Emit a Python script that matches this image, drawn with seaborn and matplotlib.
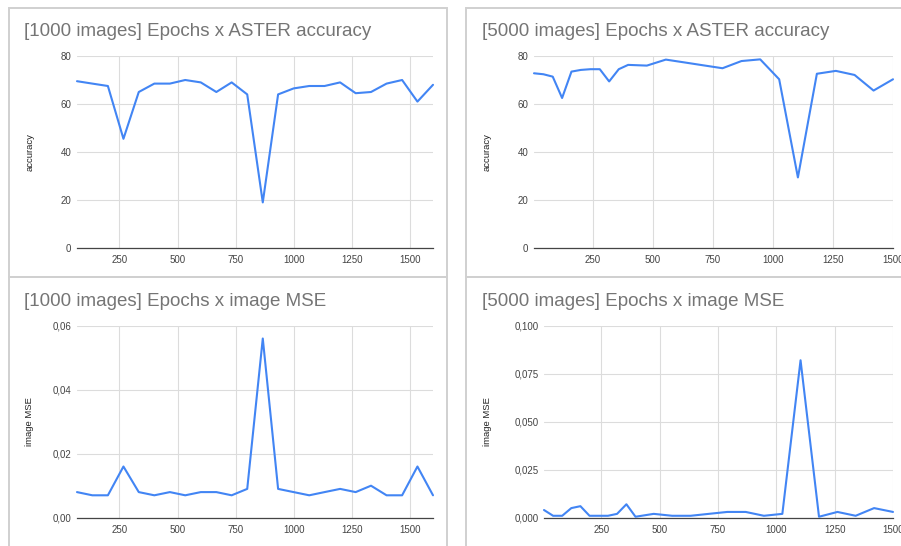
import numpy as np
import pandas as pd
import matplotlib
matplotlib.use("Agg")
import matplotlib.pyplot as plt
from matplotlib.patches import Rectangle
import seaborn as sns

# ---------------- data ----------------
epochs_1000 = [67, 133, 200, 267, 333, 400, 467, 533, 600, 667, 733, 800,
               867, 933, 1000, 1067, 1133, 1200, 1267, 1333, 1400, 1467, 1533, 1600]
acc_1000 = [69.5, 68.5, 67.5, 45.5, 65, 68.5, 68.5, 70, 69, 65, 69, 64,
            19, 64, 66.5, 67.5, 67.5, 69, 64.5, 65, 68.5, 70, 61, 68]
mse_1000 = [0.008, 0.007, 0.007, 0.016, 0.008, 0.007, 0.008, 0.007, 0.008, 0.008, 0.007, 0.009,
            0.056, 0.009, 0.008, 0.007, 0.008, 0.009, 0.008, 0.010, 0.007, 0.007, 0.016, 0.007]

epochs_5000 = [5, 44, 83, 122, 161, 200, 240, 279, 318, 358, 397, 475, 554,
               633, 711, 790, 869, 947, 1026, 1104, 1183, 1262, 1340, 1419, 1500]
acc_5000 = [72.8, 72.4, 71.4, 62.5, 73.5, 74.2, 74.5, 74.5, 69.4, 74.5, 76.3, 76.0, 78.5,
            77.3, 76.1, 74.9, 77.9, 78.6, 70.3, 29.4, 72.6, 73.8, 72.1, 65.6, 70.3]
mse_5000 = [0.004, 0.001, 0.001, 0.005, 0.006, 0.001, 0.001, 0.001, 0.002, 0.007, 0.0005, 0.002, 0.001,
            0.001, 0.002, 0.003, 0.003, 0.001, 0.002, 0.082, 0.0005, 0.003, 0.001, 0.005, 0.003]

x_ticks = [250, 500, 750, 1000, 1250, 1500]
acc_ticks = [0, 20, 40, 60, 80]
acc_tick_labels = ["0", "20", "40", "60", "80"]
mse1000_ticks = [0, 0.02, 0.04, 0.06]
mse1000_tick_labels = ["0,00", "0,02", "0,04", "0,06"]
mse5000_ticks = [0, 0.025, 0.05, 0.075, 0.1]
mse5000_tick_labels = ["0,000", "0,025", "0,050", "0,075", "0,100"]

titles = ["[1000 images] Epochs x ASTER accuracy",
          "[5000 images] Epochs x ASTER accuracy",
          "[1000 images] Epochs x image MSE",
          "[5000 images] Epochs x image MSE"]
ylabels = ["accuracy", "accuracy", "image MSE", "image MSE"]

# ---------------- style ----------------
sns.set_theme(style="white")
plt.rcParams['font.family'] = ['Liberation Sans', 'DejaVu Sans']

W, H = 901, 546
fig = plt.figure(figsize=(W / 100, H / 100), dpi=100)
fig.patch.set_facecolor("white")

LINE = "#4285F4"
GRID = "#dcdcdc"
TICKC = "#444444"
TITLEC = "#757575"
BORDER = "#d0d0d0"


def px_axes(left, right, top, bottom):
    return fig.add_axes([left / W, 1 - bottom / H, (right - left) / W, (bottom - top) / H])


# card borders
for (x0, y0, x1, y1) in [(9, 8, 447, 277), (466, 8, 910, 277),
                         (9, 277, 447, 560), (466, 277, 910, 560)]:
    fig.add_artist(Rectangle((x0 / W, 1 - y1 / H), (x1 - x0) / W, (y1 - y0) / H,
                             transform=fig.transFigure, fill=False,
                             edgecolor=BORDER, linewidth=1.4))

panels = [
    dict(pos=(77, 433, 56, 248), x=epochs_1000, y=acc_1000, xlim=(67, 1600), ylim=(0, 80),
         yt=acc_ticks, ytl=acc_tick_labels, title_xy=(24, 32), ylab_x=30),
    dict(pos=(534, 893, 56, 248), x=epochs_5000, y=acc_5000, xlim=(5, 1500), ylim=(0, 80),
         yt=acc_ticks, ytl=acc_tick_labels, title_xy=(482, 32), ylab_x=487),
    dict(pos=(77, 433, 325.7, 517.7), x=epochs_1000, y=mse_1000, xlim=(67, 1600), ylim=(0, 0.06),
         yt=mse1000_ticks, ytl=mse1000_tick_labels, title_xy=(24, 302), ylab_x=30),
    dict(pos=(544, 893, 325.7, 517.7), x=epochs_5000, y=mse_5000, xlim=(5, 1500), ylim=(0, 0.1),
         yt=mse5000_ticks, ytl=mse5000_tick_labels, title_xy=(482, 302), ylab_x=487),
]

for i, p in enumerate(panels):
    ax = px_axes(*p["pos"])
    df = pd.DataFrame({"epoch": p["x"], "value": p["y"]})
    sns.lineplot(data=df, x="epoch", y="value", ax=ax, color=LINE, linewidth=1.5,
                 zorder=3, clip_on=False)
    ax.set_xlim(*p["xlim"])
    ax.set_ylim(*p["ylim"])
    ax.set_xticks(x_ticks)
    ax.set_xticklabels([str(t) for t in x_ticks])
    ax.set_yticks(p["yt"])
    ax.set_yticklabels(p["ytl"])
    ax.set_xlabel("")
    ax.set_ylabel("")
    ax.grid(True, color=GRID, linewidth=0.8)
    ax.set_axisbelow(True)
    for s in ["top", "right", "left"]:
        ax.spines[s].set_visible(False)
    ax.spines["bottom"].set_color("#444444")
    ax.spines["bottom"].set_linewidth(0.9)
    ax.spines["bottom"].set_zorder(2)
    ax.tick_params(axis="both", length=0, labelsize=7, colors=TICKC)
    ax.tick_params(axis="x", pad=5)
    ax.tick_params(axis="y", pad=4)
    ax.set_facecolor("none")

    tx, ty = p["title_xy"]
    fig.text(tx / W, 1 - ty / H, titles[i], color=TITLEC, fontsize=13.5,
             ha="left", va="center")
    x0, x1, t0, b0 = p["pos"]
    fig.text(p["ylab_x"] / W, 1 - ((t0 + b0) / 2) / H, ylabels[i], color="#222222",
             fontsize=6.8, rotation=90, ha="center", va="center")

fig.savefig("out.png", dpi=100)
